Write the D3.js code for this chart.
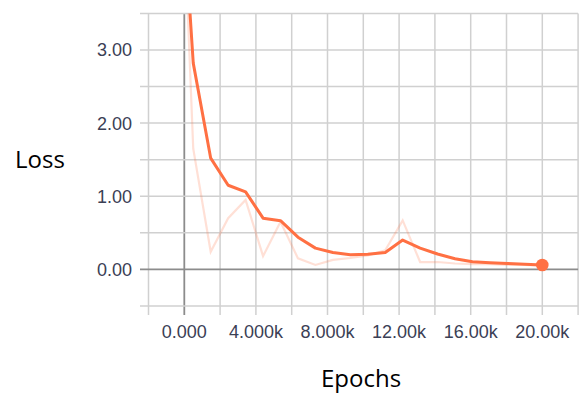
<!DOCTYPE html>
<html>
<head>
<meta charset="utf-8">
<script src="https://cdn.jsdelivr.net/npm/d3@7"></script>
<style>
  body { margin: 0; background: #fff; }
  svg { display: block; }
</style>
</head>
<body>
<div id="chart"></div>
<script>
// training loss
var steps = [0, 500, 1475, 2450, 3425, 4400, 5375, 6350, 7325, 8300, 9275,
             10250, 11225, 12200, 13175, 14150, 15125, 16100, 17075, 18050, 19025, 20000];
var smoothed = [4.7, 2.82, 1.52, 1.15, 1.06, 0.70, 0.665, 0.44, 0.29, 0.23, 0.20,
                0.205, 0.23, 0.40, 0.29, 0.21, 0.145, 0.105, 0.09, 0.08, 0.07, 0.06];
var raw = [4.7, 1.65, 0.24, 0.70, 0.95, 0.18, 0.65, 0.15, 0.06, 0.13, 0.155,
           0.19, 0.26, 0.67, 0.10, 0.10, 0.08, 0.07, 0.07, 0.06, 0.06, 0.05];
var xTicks = [-2000, 0, 2000, 4000, 6000, 8000, 10000, 12000, 14000, 16000, 18000, 20000, 22000];
var xLabels = ['0.000', '4.000k', '8.000k', '12.00k', '16.00k', '20.00k'];
var yTicks = [-0.5, 0, 0.5, 1, 1.5, 2, 2.5, 3, 3.5];
var yLabels = ['0.00', '1.00', '2.00', '3.00'];

window.onload = (function () {
    var W = 581, H = 395;
    var svg = d3.select('#chart').append('svg').attr('width', W).attr('height', H);

    var x = d3.scaleLinear().domain([-2000, 22000]).range([148.5, 578.1]);
    var y = d3.scaleLinear().domain([-0.5, 3.5]).range([305.9, 13.4]);
    var color = '#ff7043';

    // grid, with the little overhang that acts as tick marks
    svg.append('g').selectAll('line').data(xTicks).enter().append('line')
        .attr('x1', function (d) { return x(d); })
        .attr('x2', function (d) { return x(d); })
        .attr('y1', y(3.5))
        .attr('y2', y(-0.5) + 9)
        .attr('stroke', function (d) { return d === 0 ? '#8c8c8c' : '#d0d0d0'; })
        .attr('stroke-width', function (d) { return d === 0 ? 1.8 : 1.5; });
    svg.append('g').selectAll('line').data(yTicks).enter().append('line')
        .attr('x1', 140)
        .attr('x2', x(22000))
        .attr('y1', function (d) { return y(d); })
        .attr('y2', function (d) { return y(d); })
        .attr('stroke', function (d) { return d === 0 ? '#8c8c8c' : '#d0d0d0'; })
        .attr('stroke-width', function (d) { return d === 0 ? 1.8 : 1.5; });

    // tick labels
    svg.append('g').selectAll('text').data(xLabels).enter().append('text')
        .attr('x', function (d, i) { return x(i * 4000); })
        .attr('y', 338)
        .attr('text-anchor', 'middle')
        .attr('font-family', '"Liberation Sans", Arial, sans-serif')
        .attr('font-size', 18)
        .attr('fill', '#3b4055')
        .text(function (d) { return d; });
    svg.append('g').selectAll('text').data(yLabels).enter().append('text')
        .attr('x', 132)
        .attr('y', function (d) { return y(+d) + 6.5; })
        .attr('text-anchor', 'end')
        .attr('font-family', '"Liberation Sans", Arial, sans-serif')
        .attr('font-size', 18)
        .attr('fill', '#3b4055')
        .text(function (d) { return d; });

    // axis titles
    svg.append('text').attr('x', 15).attr('y', 168)
        .attr('font-family', '"Open Sans", sans-serif').attr('font-size', 24)
        .attr('fill', '#000').text('Loss');
    svg.append('text').attr('x', 321).attr('y', 387)
        .attr('font-family', '"Open Sans", sans-serif').attr('font-size', 24)
        .attr('fill', '#000').text('Epochs');

    svg.append('clipPath').attr('id', 'plot').append('rect')
        .attr('x', x(-2000)).attr('y', y(3.5))
        .attr('width', x(22000) - x(-2000)).attr('height', y(-0.5) - y(3.5));

    var line = d3.line()
        .x(function (d) { return x(d[0]); })
        .y(function (d) { return y(d[1]); });
    var plot = svg.append('g').attr('clip-path', 'url(#plot)');

    plot.append('path')
        .datum(d3.zip(steps, raw))
        .attr('d', line)
        .attr('fill', 'none')
        .attr('stroke', color)
        .attr('stroke-opacity', 0.22)
        .attr('stroke-width', 2.2);
    plot.append('path')
        .datum(d3.zip(steps, smoothed))
        .attr('d', line)
        .attr('fill', 'none')
        .attr('stroke', color)
        .attr('stroke-width', 3)
        .attr('stroke-linejoin', 'round');

    var last = steps.length - 1;
    svg.append('circle')
        .attr('cx', x(steps[last]))
        .attr('cy', y(smoothed[last]))
        .attr('r', 6.3)
        .attr('fill', color);
}());
</script>
</body>
</html>
